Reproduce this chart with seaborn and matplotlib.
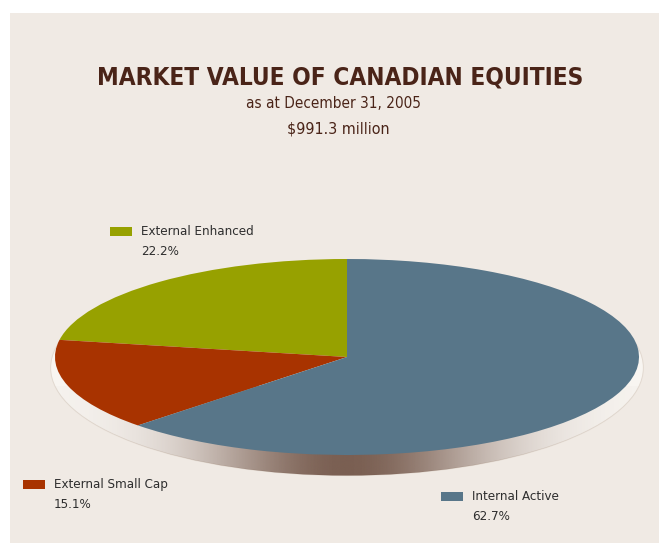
import numpy as np
import matplotlib
matplotlib.use("Agg")
import matplotlib.pyplot as plt
from matplotlib.patches import Rectangle, Ellipse
import seaborn as sns

# ---- data ----
categories = ["External Enhanced", "External Small Cap", "Internal Active"]
values = [22.2, 15.1, 62.7]
value_labels = ["22.2%", "15.1%", "62.7%"]
title = "MARKET VALUE OF CANADIAN EQUITIES"
subtitle1 = "as at December 31, 2005"
subtitle2 = "$991.3 million"

sns.set_style("white")
plt.rcParams["font.family"] = ["DejaVu Sans"]

colors = sns.color_palette(["#97a100", "#a83300", "#587689"])
bg = "#f0eae4"
title_col = "#4a2418"
text_col = "#2e2e2e"

W, H = 659, 546
fig = plt.figure(figsize=(W / 100, H / 100), dpi=100)
fig.patch.set_facecolor("white")

# background panel (pixel coords)
ax_bg = fig.add_axes([0, 0, 1, 1], zorder=0)
ax_bg.set_xlim(0, W)
ax_bg.set_ylim(H, 0)
ax_bg.axis("off")
ax_bg.add_patch(Rectangle((10, 13), W - 10, 530, facecolor=bg, edgecolor="none"))

# pie axes: ellipse in pixels (axes extends below to hold the rim)
cx, cy, a, b = 347, 357, 292, 98
ext = 1.4  # lower extent in data units
ax = fig.add_axes([(cx - a - 8) / W, (H - (cy + ext * b)) / H,
                   (2 * a + 16) / W, ((1 + ext) * b) / H], zorder=1)
ax.patch.set_alpha(0)

# rim (disk thickness)
rim_dy = -0.11
rim_w, rim_h = 2.03, 2.2
rim = Ellipse((0, rim_dy), rim_w, rim_h, facecolor="#f8f5f1", edgecolor="#e2d9d0",
              linewidth=0.7, zorder=0)
ax.add_patch(rim)

# shadow gradient on the rim
xs = np.linspace(-1.1, 1.1, 400)
ys = np.linspace(-1.35, -0.3, 120)
X, Y = np.meshgrid(xs, ys)
alpha = 0.9 * np.exp(-(X / 0.5) ** 2)
img = np.zeros(X.shape + (4,))
img[..., 0] = 108 / 255
img[..., 1] = 78 / 255
img[..., 2] = 64 / 255
img[..., 3] = alpha
im = ax.imshow(img, extent=(-1.1, 1.1, -1.35, -0.3), origin="lower",
               aspect="auto", zorder=0.5, interpolation="bilinear")
im.set_clip_path(rim)

wedges, _ = ax.pie(values, colors=colors, startangle=90, counterclock=True, radius=1,
                   wedgeprops=dict(linewidth=0, antialiased=True))
for w in wedges:
    w.set_zorder(2)
ax.set_aspect("auto")
ax.set_xlim(-1 - 8 / a, 1 + 8 / a)
ax.set_ylim(-ext, 1)
ax.axis("off")

# overlay for text
ax_t = fig.add_axes([0, 0, 1, 1], zorder=3)
ax_t.set_xlim(0, W)
ax_t.set_ylim(H, 0)
ax_t.axis("off")
ax_t.patch.set_alpha(0)

ax_t.text(340, 77, title, ha="center", va="center", fontsize=17.5, fontweight="bold",
          fontstretch="condensed", color=title_col)
ax_t.text(333, 104, subtitle1, ha="center", va="center", fontsize=11,
          fontstretch="condensed", color=title_col)
ax_t.text(338, 129, subtitle2, ha="center", va="center", fontsize=11.5,
          fontstretch="condensed", color=title_col)

legend_pos = [(110, 227), (23, 480), (441, 492)]
for (lx, ly), c, name, vl in zip(legend_pos, colors, categories, value_labels):
    ax_t.add_patch(Rectangle((lx, ly), 22, 9, facecolor=c, edgecolor="none"))
    ax_t.text(lx + 31, ly + 4.5, name, ha="left", va="center", fontsize=9.5,
              fontstretch="condensed", color=text_col)
    ax_t.text(lx + 31, ly + 24.5, vl, ha="left", va="center", fontsize=9.5,
              fontstretch="condensed", color=text_col)

fig.savefig("out.png", dpi=100, facecolor=fig.get_facecolor())
